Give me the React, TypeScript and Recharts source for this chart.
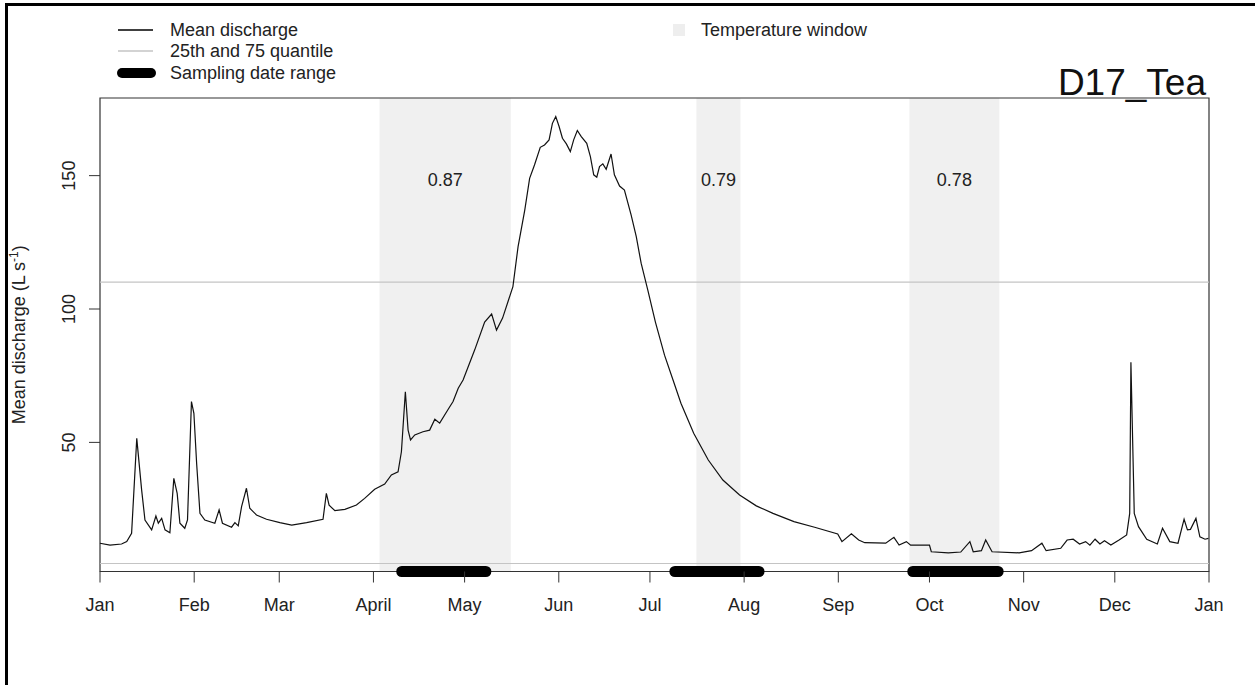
import React from "react";
import { LineChart, Line, XAxis, YAxis, ReferenceArea, ReferenceLine } from "recharts";

// day of year (0 = 1 Jan) and mean discharge (L/s)
const DAYS = [
  0, 3.3, 7.1, 8.8, 10.4, 12.1, 13.7, 14.8, 17, 18.4, 19.2, 20.3, 21.4, 23, 24.3, 25.4, 26.3, 27.9, 28.8,
  30.1, 30.9, 31.8, 32.9, 34.5, 37.8, 39.2, 40.3, 43.3, 44.4, 45.5, 46.6, 48.2, 49.3, 51.5, 54.8, 59.2,
  63.1, 68, 73.4, 74.5, 75.4, 77.3, 80.6, 84.4, 87.1, 90.4, 93.7, 95.9, 98.1, 99.2, 100.5, 101.4, 102.2,
  103.6, 106.3, 108.5, 110.2, 111.8, 114.6, 116.2, 117.9, 119.5, 123.3, 126.6, 128.9, 130.5, 132.5, 135.9,
  137.6, 139.8, 141.4, 143, 144.9, 146.3, 147.8, 148.9, 150, 151.1, 152.2, 153.5, 154.8, 155.9, 157.1,
  158.4, 160.2, 161.4, 162.5, 163.5, 164.4, 165.5, 166.6, 168.2, 169.3, 171, 172.6, 174.8, 176.5, 178.1,
  180.3, 182.8, 185.8, 188.6, 191.2, 195.4, 200.2, 205, 210.5, 216, 221.5, 228.4, 235.2, 242.8, 244.2,
  247.3, 249.7, 251.7, 258.6, 261.3, 263, 265.4, 266.8, 273, 273.6, 279.2, 283.3, 286.3, 287.4, 290.1,
  291.5, 293.6, 302.5, 306.6, 310, 311.4, 316.2, 318.3, 320.3, 322.4, 324.4, 325.8, 327.5, 329.1, 330.6,
  332.7, 335.4, 337.9, 338.9, 339.3, 340.4, 341.8, 344.5, 348, 349.7, 352.1, 354.8, 356.8, 357.9, 358.9,
  360.7, 362, 363.7, 364.8,
];
const DISCHARGE = [
  12.2, 11.5, 11.9, 12.8, 15.9, 51.5, 32.2, 20.9, 17.2, 22.4, 19.7, 21.5, 17.2, 16.1, 36.5, 30.9, 19.7, 17.8, 20.9,
  65.3, 60.9, 42.2, 23.4, 20.9, 19.7, 24.7, 19.7, 18.2, 19.9, 18.7, 25.9, 32.8, 25.3, 22.8, 21.2, 19.9,
  19.0, 19.9, 21.2, 30.9, 26.5, 24.4, 24.9, 26.5, 29.0, 32.4, 34.4, 37.8, 39.0, 46.5, 69.0, 54.6, 50.9,
  52.8, 54.0, 54.6, 58.7, 57.2, 62.4, 65.3, 70.3, 73.4, 84.6, 95.1, 98.1, 92.1, 96.6, 108.4,
  123.4, 137.1, 149.0, 154.0, 160.6, 161.5, 163.4, 169.6, 172.1, 168.4, 164.0, 161.9, 159.0, 163.4, 166.9,
  164.6, 162.1, 157.1, 150.3, 149.4, 153.4, 154.4, 152.4, 158.1, 150.3, 146.1, 144.6, 135.3, 127.1, 117.2,
  107.1, 95.1, 82.7, 73.4, 64.7, 53.4, 43.4, 35.9, 30.3, 26.2, 23.4, 20.3, 18.2, 15.7, 12.8,
  15.7, 13.4, 12.4, 12.2, 14.4, 11.5, 12.8, 11.5, 11.5, 9.0, 8.6, 8.9, 12.8, 9.0, 9.4,
  13.4, 9.0, 8.6, 9.4, 12.2, 9.4, 10.3, 13.4, 13.7, 11.9, 12.8, 11.5, 13.7, 11.9, 13.1,
  11.5, 13.4, 15.3, 23.4, 80, 23.4, 18.4, 13.7, 11.9, 17.8, 12.8, 12.2, 21.2, 17.2, 17.4,
  21.5, 14.6, 13.7, 14.0,
];

const MONTH_TICKS = [0, 31, 59, 90, 120, 151, 181, 212, 243, 273, 304, 334, 365];
const MONTH_LABELS = ["Jan", "Feb", "Mar", "April", "May", "Jun", "Jul", "Aug", "Sep", "Oct", "Nov", "Dec", "Jan"];
const Y_TICKS = [50, 100, 150];
const Y_MIN = 1.6;
const Y_MAX = 179.1;

const Q25 = 4.6;
const Q75 = 110.1;

const WINDOW_START = [92, 196.3, 266.4];
const WINDOW_END = [135.2, 210.8, 296];
const WINDOW_R = [0.87, 0.79, 0.78];

const SAMPLING_START = [99.3, 189.2, 267.5];
const SAMPLING_END = [127, 216.9, 295.6];

const FONT = "'Liberation Sans', Arial, sans-serif";

const series = DAYS.map((d, i) => ({ day: d, q: DISCHARGE[i] }));

const YTick = (p: any) => (
  <text
    transform={`translate(${p.x - 12},${p.y}) rotate(-90)`}
    textAnchor="middle"
    fontSize={18}
    fontFamily={FONT}
    fill="#222"
  >
    {p.payload.value}
  </text>
);

export default function App() {
  return (
    <div style={{ position: "absolute", left: 0, top: 0, width: 1255, height: 685, background: "#fff", fontFamily: FONT }}>
      <div
        style={{
          position: "absolute",
          left: 5,
          top: 3,
          right: 0,
          bottom: 0,
          borderTop: "3px solid #000",
          borderLeft: "3px solid #000",
        }}
      />
      <LineChart
        width={1255}
        height={685}
        margin={{ top: 98, right: 46, bottom: 73.5, left: 0 }}
        style={{ position: "absolute", left: 0, top: 0 }}
      >
        <XAxis
          dataKey="day"
          type="number"
          domain={[0, 365]}
          ticks={MONTH_TICKS}
          tickFormatter={(v: number) => MONTH_LABELS[MONTH_TICKS.indexOf(v)]}
          height={40}
          axisLine={false}
          tickLine={{ stroke: "#333" }}
          tickSize={11}
          tickMargin={16}
          interval={0}
          tick={{ fill: "#222", fontSize: 18, fontFamily: FONT }}
        />
        <YAxis
          type="number"
          domain={[Y_MIN, Y_MAX]}
          ticks={Y_TICKS}
          width={100}
          axisLine={false}
          tickLine={{ stroke: "#333" }}
          tickSize={11}
          tick={<YTick />}
        />
        {WINDOW_START.map((s, i) => (
          <ReferenceArea
            key={`w${i}`}
            x1={s}
            x2={WINDOW_END[i]}
            y1={Y_MIN}
            y2={Y_MAX}
            fill="#f0f0f0"
            fillOpacity={1}
            stroke="none"
            label={{
              value: WINDOW_R[i].toFixed(2),
              position: "insideTop",
              offset: 75,
              fill: "#222",
              fontSize: 18,
              fontFamily: FONT,
            }}
          />
        ))}
        <ReferenceArea x1={0} x2={365} y1={Y_MIN} y2={Y_MAX} fill="none" stroke="#333" strokeWidth={1.2} />
        <ReferenceLine y={Q75} stroke="#c4c4c4" strokeWidth={1.2} />
        <ReferenceLine y={Q25} stroke="#c4c4c4" strokeWidth={1.2} />
        <Line
          data={series}
          dataKey="q"
          type="linear"
          stroke="#111"
          strokeWidth={1.2}
          dot={false}
          isAnimationActive={false}
        />
        {SAMPLING_START.map((s, i) => (
          <Line
            key={`s${i}`}
            data={[
              { day: s, v: Y_MIN },
              { day: SAMPLING_END[i], v: Y_MIN },
            ]}
            dataKey="v"
            type="linear"
            stroke="#000"
            strokeWidth={11}
            strokeLinecap="round"
            dot={false}
            isAnimationActive={false}
          />
        ))}
      </LineChart>
      <svg width={1255} height={685} style={{ position: "absolute", left: 0, top: 0, pointerEvents: "none" }}>
        <g fontFamily={FONT} fontSize={18} fill="#222">
          <line x1={118} x2={153} y1={30} y2={30} stroke="#000" strokeWidth={1.3} />
          <text x={170} y={30} dominantBaseline="central">Mean discharge</text>
          <line x1={118} x2={153} y1={51} y2={51} stroke="#c4c4c4" strokeWidth={1.3} />
          <text x={170} y={51} dominantBaseline="central">25th and 75 quantile</text>
          <line x1={122} x2={151} y1={73} y2={73} stroke="#000" strokeWidth={10} strokeLinecap="round" />
          <text x={170} y={73} dominantBaseline="central">Sampling date range</text>
          <rect x={673} y={24} width={12} height={12} fill="#eeeeee" />
          <text x={701} y={30} dominantBaseline="central">Temperature window</text>
          <text x={1206} y={95} textAnchor="end" fontSize={37} fill="#111">D17_Tea</text>
          <text transform="translate(25,334.8) rotate(-90)" textAnchor="middle">
            Mean discharge (L s
            <tspan dy={-7} fontSize={12}>-1</tspan>
            <tspan dy={7}>)</tspan>
          </text>
        </g>
      </svg>
    </div>
  );
}
